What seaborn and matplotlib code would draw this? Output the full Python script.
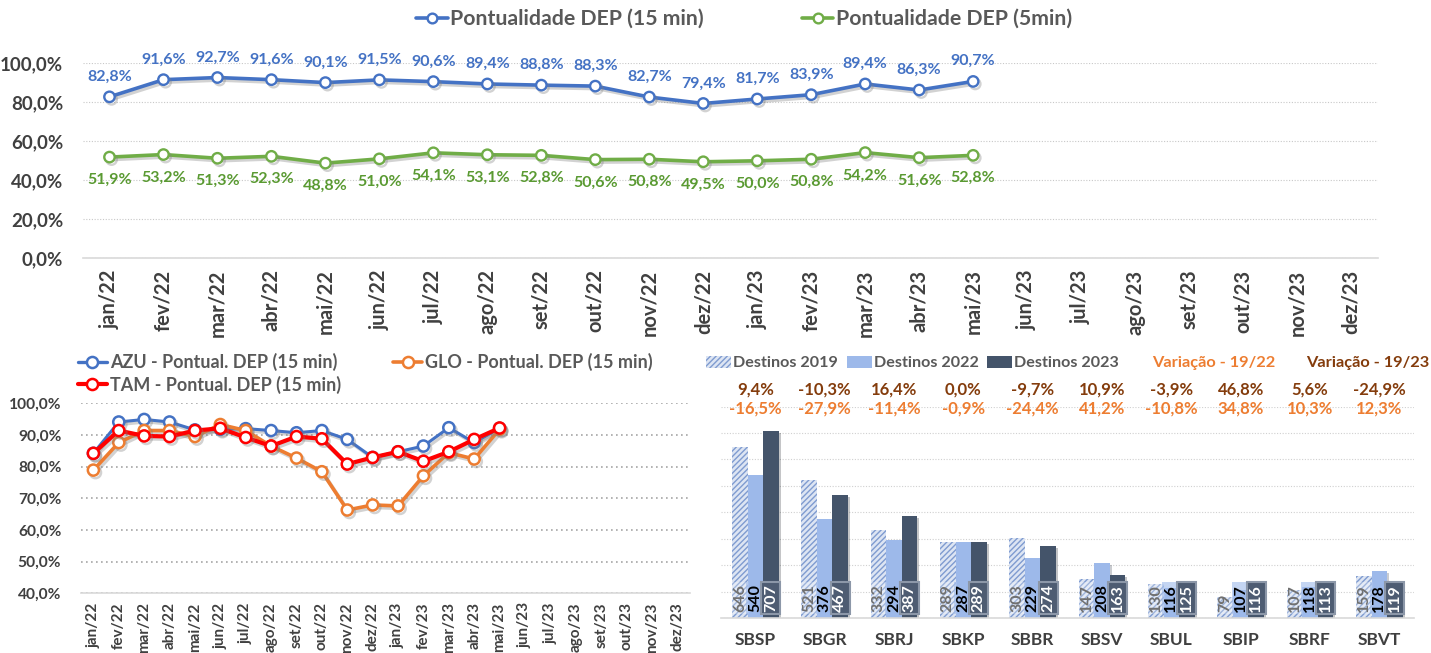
import numpy as np
import pandas as pd
import matplotlib
matplotlib.use('Agg')
import matplotlib.pyplot as plt
import matplotlib.patheffects as pe
from matplotlib.patches import Patch
from matplotlib.lines import Line2D
import seaborn as sns

# ---------------- data ----------------
months = ['jan/22', 'fev/22', 'mar/22', 'abr/22', 'mai/22', 'jun/22', 'jul/22', 'ago/22',
          'set/22', 'out/22', 'nov/22', 'dez/22', 'jan/23', 'fev/23', 'mar/23', 'abr/23',
          'mai/23', 'jun/23', 'jul/23', 'ago/23', 'set/23', 'out/23', 'nov/23', 'dez/23']
dep15 = [82.8, 91.6, 92.7, 91.6, 90.1, 91.5, 90.6, 89.4, 88.8, 88.3, 82.7, 79.4, 81.7, 83.9, 89.4, 86.3, 90.7]
dep5 = [51.9, 53.2, 51.3, 52.3, 48.8, 51.0, 54.1, 53.1, 52.8, 50.6, 50.8, 49.5, 50.0, 50.8, 54.2, 51.6, 52.8]

azu = [84.2, 94.1, 94.9, 94.1, 91.6, 91.8, 92.0, 91.4, 90.7, 91.4, 88.6, 82.9, 84.7, 86.5, 92.3, 87.6, 92.1]
glo = [78.9, 87.6, 91.4, 91.4, 89.5, 93.3, 91.4, 86.5, 82.7, 78.4, 66.3, 67.9, 67.6, 77.1, 84.4, 82.4, 91.8]
tam = [84.2, 91.4, 89.7, 89.5, 91.4, 92.1, 89.2, 86.5, 89.5, 88.8, 80.8, 82.9, 84.7, 81.7, 84.7, 88.6, 92.2]

airports = ['SBSP', 'SBGR', 'SBRJ', 'SBKP', 'SBBR', 'SBSV', 'SBUL', 'SBIP', 'SBRF', 'SBVT']
dest2019 = [646, 521, 332, 289, 303, 147, 130, 79, 107, 159]
dest2022 = [540, 376, 294, 287, 229, 208, 116, 107, 118, 178]
dest2023 = [707, 467, 387, 289, 274, 163, 125, 116, 113, 119]
var_19_23 = [9.4, -10.3, 16.4, 0.0, -9.7, 10.9, -3.9, 46.8, 5.6, -24.9]
var_19_22 = [-16.5, -27.9, -11.4, -0.9, -24.4, 41.2, -10.8, 34.8, 10.3, 12.3]

# ---------------- style ----------------
sns.set_style('white')
plt.rcParams['font.family'] = ['Lato', 'DejaVu Sans']
plt.rcParams['hatch.linewidth'] = 1.0

BLUE = '#4472C4'
GREEN = '#70AD47'
GREEN_TXT = '#5A9A32'
ORANGE = '#ED7D31'
RED = '#FF0000'
BROWN = '#843C0C'
C19_FACE = '#DDE5F3'
C19_HATCH = '#7F9BD0'
C22 = '#9DB9EA'
C23 = '#44546A'
TXT = '#404040'
LEG = '#595959'
AXLINE = '#D9D9D9'


def pct(v):
    return f"{v:.1f}".replace('.', ',') + '%'


W, H = 1431, 653


def rect(l, t, r, b):
    return [l / W, 1 - b / H, (r - l) / W, (b - t) / H]


fig = plt.figure(figsize=(W / 100, H / 100), dpi=100)
shadow = [pe.SimpleLineShadow(offset=(1.5, -1.8), shadow_color='#808080', alpha=0.35), pe.Normal()]


def month_axis(ax, fs, pad):
    ax.set_xlim(-0.5, len(months) - 0.5)
    ax.set_xticks(range(len(months)))
    ax.set_xticklabels(months, rotation=90, fontsize=fs, fontweight='bold', color=TXT)
    ax.set_xticks(np.arange(-0.5, len(months), 1), minor=True)
    ax.tick_params(axis='x', which='major', length=0, pad=pad)
    ax.tick_params(axis='x', which='minor', length=6, color=AXLINE, width=1.2)
    for s in ['top', 'right', 'left']:
        ax.spines[s].set_visible(False)
    ax.spines['bottom'].set_color(AXLINE)
    ax.spines['bottom'].set_linewidth(1.2)
    ax.set_xlabel('')
    ax.set_ylabel('')


# ---------------- top chart ----------------
ax1 = fig.add_axes(rect(82.5, 63.3, 1378, 258.3))
df_top = pd.DataFrame({'pos': list(range(len(dep15))) * 2,
                       'value': dep15 + dep5,
                       'serie': ['Pontualidade DEP (15 min)'] * len(dep15) + ['Pontualidade DEP (5min)'] * len(dep5)})
for name, col in [('Pontualidade DEP (15 min)', BLUE), ('Pontualidade DEP (5min)', GREEN)]:
    sub = df_top[df_top['serie'] == name]
    sns.lineplot(data=sub, x='pos', y='value', ax=ax1, color=col, lw=2.6, marker='o', ms=7.5,
                 markerfacecolor='white', markeredgecolor=col, markeredgewidth=1.7,
                 path_effects=shadow, legend=False, zorder=3)
ax1.set_ylim(0, 100)
ax1.set_yticks(range(0, 101, 20))
ax1.set_yticklabels([pct(v) for v in range(0, 101, 20)], fontsize=13.5, fontweight='bold', color=TXT)
ax1.tick_params(axis='y', length=0, pad=14)
ax1.yaxis.grid(True, linestyle=(0, (1, 1.5)), color='#C8C8C8', lw=0.8)
month_axis(ax1, 14.5, 8)
for i, v in enumerate(dep15):
    ax1.annotate(pct(v), (i, v), xytext=(0, 14.5), textcoords='offset points', ha='center', va='center',
                 fontsize=11.5, fontweight='bold', color=BLUE, annotation_clip=False)
for i, v in enumerate(dep5):
    ax1.annotate(pct(v), (i, v), xytext=(0, -16.5), textcoords='offset points', ha='center', va='center',
                 fontsize=11.5, fontweight='bold', color=GREEN_TXT, annotation_clip=False)

h_top = [Line2D([], [], color=BLUE, lw=2.6, marker='o', ms=7, mfc='white', mec=BLUE, mew=1.7),
         Line2D([], [], color=GREEN, lw=2.6, marker='o', ms=7, mfc='white', mec=GREEN, mew=1.7)]
fig.legend(h_top, ['Pontualidade DEP (15 min)', 'Pontualidade DEP (5min)'], loc='center',
           bbox_to_anchor=(744 / W, 1 - 19 / H), ncol=2, frameon=False,
           prop={'size': 15.3, 'weight': 'bold'}, labelcolor=LEG, handlelength=1.5,
           handletextpad=0.1, columnspacing=4.6)

# ---------------- bottom-left chart ----------------
ax2 = fig.add_axes(rect(80.7, 403.3, 690, 593.3))
n = len(azu)
df_air = pd.DataFrame({'pos': list(range(n)) * 3, 'value': azu + glo + tam,
                       'cia': ['AZU'] * n + ['GLO'] * n + ['TAM'] * n})
for name, col, lw in [('AZU', BLUE, 2.2), ('GLO', ORANGE, 2.6), ('TAM', RED, 3.0)]:
    sub = df_air[df_air['cia'] == name]
    sns.lineplot(data=sub, x='pos', y='value', ax=ax2, color=col, lw=lw, marker='o', ms=8,
                 markerfacecolor='white', markeredgecolor=col, markeredgewidth=1.8,
                 path_effects=shadow, legend=False, zorder=3)
ax2.set_ylim(40, 100)
ax2.set_yticks(range(40, 101, 10))
ax2.set_yticklabels([pct(v) for v in range(40, 101, 10)], fontsize=11.2, fontweight='bold', color=TXT)
ax2.tick_params(axis='y', length=0, pad=14)
ax2.yaxis.grid(True, linestyle=(0, (1, 2)), color='#A6A6A6', lw=1.2)
month_axis(ax2, 11, 6.5)
h_air = [Line2D([], [], color=BLUE, lw=2.4, marker='o', ms=8, mfc='white', mec=BLUE, mew=1.8),
         Line2D([], [], color=RED, lw=3.0, marker='o', ms=8, mfc='white', mec=RED, mew=1.8),
         Line2D([], [], color=ORANGE, lw=2.6, marker='o', ms=8, mfc='white', mec=ORANGE, mew=1.8)]
fig.legend(h_air, ['AZU - Pontual. DEP (15 min)', 'TAM - Pontual. DEP (15 min)', 'GLO - Pontual. DEP (15 min)'],
           loc='upper left', bbox_to_anchor=(78 / W, 1 - 353 / H), ncol=2, frameon=False,
           prop={'size': 13, 'weight': 'bold'}, labelcolor=LEG, handlelength=1.6,
           handletextpad=0.15, columnspacing=2.9, labelspacing=0.25, borderpad=0, borderaxespad=0)

# ---------------- bar chart ----------------
ax3 = fig.add_axes(rect(720.7, 406.5, 1414, 618.3))
series = ['Destinos 2019', 'Destinos 2022', 'Destinos 2023']
df_bar = pd.DataFrame({'airport': airports * 3, 'value': dest2019 + dest2022 + dest2023,
                       'serie': [series[0]] * 10 + [series[1]] * 10 + [series[2]] * 10})
sns.barplot(data=df_bar, x='airport', y='value', hue='serie', hue_order=series,
            palette=[C19_FACE, C22, C23], width=0.67, saturation=1, ax=ax3, legend=False, zorder=2)
for bar in ax3.containers[0]:
    bar.set_facecolor(C19_FACE)
    bar.set_hatch('//////')
    bar.set_edgecolor(C19_HATCH)
    bar.set_linewidth(0)
for bar in list(ax3.containers[1]) + list(ax3.containers[2]):
    bar.set_linewidth(0)
    bar.set_path_effects([pe.SimplePatchShadow(offset=(1.5, -1.5), alpha=0.25), pe.Normal()])

lab_style = [
    dict(color='#707070', bbox=dict(boxstyle='square,pad=0.12', fc='white', ec='none', alpha=0.25)),
    dict(color='black', bbox=dict(boxstyle='square,pad=0.12', fc=C22, ec='none', alpha=0.6)),
    dict(color='white', bbox=dict(boxstyle='square,pad=0.15', fc='#4E5C72', ec='#8C97A8', lw=1.5)),
]
for k, cont in enumerate(ax3.containers):
    for bar in cont:
        v = int(round(bar.get_height()))
        ax3.annotate(str(v), (bar.get_x() + bar.get_width() / 2, 0), xytext=(0, 4.5),
                     textcoords='offset points', rotation=90, ha='center', va='bottom',
                     fontsize=11.5, fontweight='bold', zorder=5, **lab_style[k])

ax3.set_ylim(0, 800)
ax3.set_yticks(range(0, 801, 100))
ax3.set_yticklabels([])
ax3.tick_params(axis='y', length=0)
ax3.yaxis.grid(True, linestyle=(0, (1, 1.5)), color='#D0D0D0', lw=0.8)
ax3.set_xlim(-0.5, len(airports) - 0.5)
ax3.set_xticks(range(len(airports)))
ax3.set_xticklabels(airports, fontsize=12.5, fontweight='bold', color=TXT)
ax3.set_xticks(np.arange(-0.5, len(airports), 1), minor=True)
ax3.tick_params(axis='x', which='major', length=0, pad=10)
ax3.tick_params(axis='x', which='minor', length=6, color=AXLINE, width=1.2)
for s in ['top', 'right', 'left']:
    ax3.spines[s].set_visible(False)
ax3.spines['bottom'].set_color(AXLINE)
ax3.spines['bottom'].set_linewidth(1.2)
ax3.set_xlabel('')
ax3.set_ylabel('')

tr = ax3.get_xaxis_transform()
for i in range(len(airports)):
    ax3.text(i, 1.078, pct(var_19_23[i]), transform=tr, ha='center', va='center',
             fontsize=12, fontweight='bold', color=BROWN, clip_on=False)
    ax3.text(i, 0.99, pct(var_19_22[i]), transform=tr, ha='center', va='center',
             fontsize=12, fontweight='bold', color=ORANGE, clip_on=False)

h_bar = [Patch(facecolor=C19_FACE, hatch='//////', edgecolor=C19_HATCH, lw=0),
         Patch(facecolor=C22, lw=0), Patch(facecolor=C23, lw=0)]
leg3 = fig.legend(h_bar, series, loc='center left',
                  bbox_to_anchor=(706 / W, 1 - 363 / H), ncol=3, frameon=False,
                  prop={'size': 11.6, 'weight': 'bold'}, labelcolor=LEG, handlelength=1.55,
                  handleheight=0.75, handletextpad=0.12, columnspacing=0.55, borderpad=0, borderaxespad=0)
fig.text(1152 / W, 1 - 363 / H, 'Variação - 19/22', ha='left', va='center',
         fontsize=11.8, fontweight='bold', color=ORANGE)
fig.text(1429 / W, 1 - 363 / H, 'Variação - 19/23', ha='right', va='center',
         fontsize=11.8, fontweight='bold', color=BROWN)

fig.savefig('out.png', dpi=100)
